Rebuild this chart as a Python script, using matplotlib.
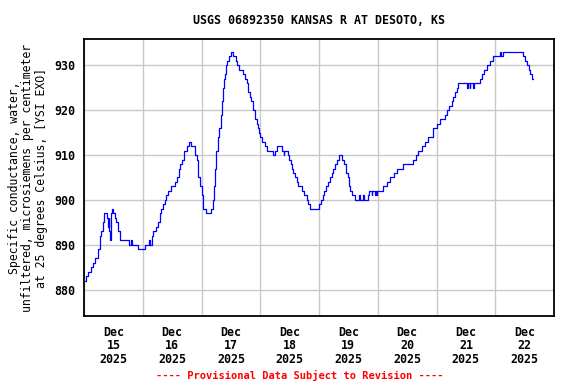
import matplotlib
matplotlib.use('Agg')
import matplotlib.pyplot as plt
import matplotlib.dates as mdates
import numpy as np
from datetime import datetime, timedelta

# hours after 2025-12-15 00:00 and specific conductance (uS/cm)
hours = [0.3, 1.0, 1.6, 3.0, 3.6, 4.4, 5.1, 5.7, 6.4, 7.1, 7.8, 8.2, 9.2, 9.6, 9.8,
         10.1, 10.4, 10.6, 10.9, 11.3, 11.9, 12.6, 13.0, 13.7, 13.9, 14.6, 14.9,
         18.4, 18.5, 19.3, 19.5, 21.7, 22.1, 22.4, 24.8, 25.0, 26.6, 26.7, 27.0,
         27.6, 28.0, 28.9, 29.6, 30.3, 31.0, 31.6, 32.3, 33.0, 33.7, 34.3, 35.7,
         37.1, 37.8, 38.7, 39.4, 40.2, 40.9, 41.9, 42.9, 43.9, 45.3, 46.0, 46.6,
         47.3, 48.0, 48.7, 49.4, 50.0, 51.1, 51.7, 52.5, 53.0, 53.4, 54.1, 54.8,
         55.2, 55.8, 56.2, 56.6, 57.1, 57.5, 57.9, 58.5, 59.2, 59.9, 60.7, 60.9,
         61.9, 62.6, 63.4, 64.8, 65.7, 66.4, 67.1, 67.8, 68.4, 69.1, 69.8, 70.5,
         71.1, 71.6, 72.1, 72.9, 73.9, 74.6, 77.0, 77.2, 78.0, 78.9, 80.0, 80.7,
         81.7, 81.9, 83.4, 83.8, 84.4, 84.8, 85.5, 86.2, 86.9, 87.5, 88.2, 88.9,
         89.8, 90.9, 91.6, 92.3, 95.7, 96.1, 96.7, 97.5, 98.0, 98.8, 99.8, 100.5,
         101.2, 101.8, 102.5, 103.2, 104.3, 105.2, 106.3, 107.0, 107.7, 108.4,
         108.6, 109.3, 110.0, 110.7, 112.5, 112.9, 114.0, 114.4, 115.5, 116.1,
         116.5, 117.5, 117.8, 118.9, 119.2, 119.6, 119.8, 120.2, 122.3, 123.4,
         123.7, 125.0, 126.8, 128.0, 130.4, 134.3, 134.5, 135.6, 136.6, 138.0,
         139.3, 140.7, 142.1, 142.5, 143.4, 144.1, 145.4, 147.5, 148.2, 149.2,
         150.2, 150.9, 151.6, 152.3, 152.9, 156.4, 156.6, 156.9, 157.6, 157.8,
         158.9, 159.2, 161.1, 161.8, 162.5, 163.2, 164.5, 165.9, 167.2, 170.0,
         170.1, 170.4, 171.3, 178.9, 179.3, 180.2, 180.9, 181.6, 182.3, 183.0, 183.6]
values = [882, 883, 884, 885, 886, 887, 887, 889, 892, 893, 895, 897, 896, 895, 894,
          896, 893, 891, 897, 898, 897, 896, 895, 894, 893, 892, 891,
          891, 890, 891, 890, 890, 889, 889, 889, 890, 890, 891, 890,
          892, 893, 893, 894, 895, 897, 898, 899, 900, 901, 902, 903,
          904, 905, 907, 908, 909, 911, 912, 913, 912, 910, 909, 905,
          903, 901, 898, 898, 897, 897, 898, 900, 903, 907, 911, 914,
          916, 919, 922, 925, 927, 928, 930, 931, 932, 933, 933, 932,
          931, 930, 929, 928, 927, 926, 924, 923, 922, 920, 918, 917,
          916, 915, 914, 913, 912, 911, 911, 910, 911, 912, 912, 911,
          910, 911, 910, 909, 908, 907, 906, 905, 904, 903, 903, 902,
          901, 900, 899, 898, 898, 899, 900, 901, 902, 903, 904, 905,
          906, 907, 908, 909, 910, 909, 908, 906, 905, 903,
          902, 901, 901, 900, 901, 900, 901, 900, 900, 901,
          902, 901, 902, 901, 902, 901, 902, 902, 903, 903,
          904, 905, 906, 907, 908, 908, 909, 910, 911, 912,
          913, 914, 914, 916, 916, 917, 918, 919, 920, 921,
          922, 923, 924, 925, 926, 926, 925, 926, 925, 926,
          925, 926, 926, 927, 928, 929, 930, 931, 932, 932,
          933, 932, 933, 933, 932, 931, 930, 929, 928, 927, 927]

start = datetime(2025, 12, 15)
times = [start + timedelta(hours=h) for h in hours]

mono = 'DejaVu Sans Mono'
plt.rcParams['font.family'] = mono
plt.rcParams['font.weight'] = 'bold'

fig = plt.figure(figsize=(5.76, 3.84), dpi=100)
ax = fig.add_axes([84/576, 1-316/384, 470/576, 277/384])

ax.plot(times, values, color='#0000ff', linewidth=0.9, drawstyle='steps-post')

ax.set_xlim(start, start + timedelta(days=8))
ax.set_ylim(874.2, 935.8)

ax.xaxis.set_major_locator(mdates.DayLocator())
ax.xaxis.set_major_formatter(plt.NullFormatter())
ax.xaxis.set_minor_locator(mdates.HourLocator(byhour=12))
ax.xaxis.set_minor_formatter(mdates.DateFormatter('%b\n%d\n%Y'))
ax.set_yticks(np.arange(880, 931, 10))

ax.tick_params(which='both', length=0, labelsize=8.4)
ax.tick_params(axis='x', which='minor', pad=7)
ax.tick_params(axis='y', pad=6)
for lbl in ax.xaxis.get_minorticklabels():
    lbl.set_linespacing(1.05)

ax.grid(True, which='major', color='#c8c8c8', linewidth=1)
ax.set_axisbelow(True)
for sp in ax.spines.values():
    sp.set_linewidth(1.3)

ax.set_title('USGS 06892350 KANSAS R AT DESOTO, KS', fontsize=8.4,
             fontweight='bold', pad=11)
ax.set_ylabel('Specific conductance, water,\nunfiltered, microsiemens per centimeter\nat 25 degrees Celsius, [YSI EXO]',
              fontsize=8.3, linespacing=1.05, multialignment='center', labelpad=5)

fig.text(300/576, 1-375/384, '---- Provisional Data Subject to Revision ----',
         color='red', fontsize=7.5, fontweight='bold', ha='center', va='center')

plt.savefig('out.png', dpi=100)
